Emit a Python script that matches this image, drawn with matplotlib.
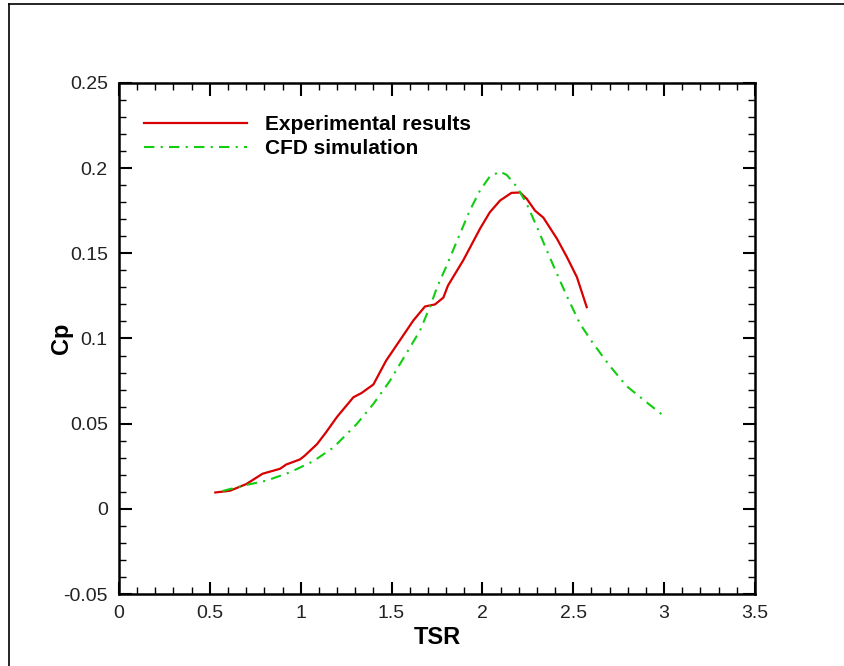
import numpy as np
import matplotlib
matplotlib.use("Agg")
import matplotlib.pyplot as plt
from matplotlib.ticker import AutoMinorLocator
from matplotlib.lines import Line2D

plt.rcParams['font.family'] = ['Liberation Sans', 'DejaVu Sans']

tsr_exp = [0.53, 0.61, 0.70, 0.79, 0.886, 0.92, 0.996, 1.02, 1.09, 1.14, 1.20,
           1.29, 1.335, 1.40, 1.47, 1.54, 1.62, 1.684, 1.739, 1.785, 1.81,
           1.895, 1.987, 2.04, 2.097, 2.16, 2.207, 2.244, 2.29, 2.335, 2.41,
           2.464, 2.52, 2.574]
cp_exp = [0.0096, 0.0106, 0.0145, 0.0206, 0.0235, 0.026, 0.029, 0.031, 0.038,
          0.045, 0.054, 0.0655, 0.068, 0.073, 0.087, 0.098, 0.1106, 0.1188,
          0.120, 0.124, 0.131, 0.146, 0.1645, 0.174, 0.181, 0.1855, 0.1857,
          0.182, 0.175, 0.171, 0.1586, 0.148, 0.136, 0.1184]

# CFD simulation
tsr_cfd = [0.57, 0.70, 0.81, 0.94, 1.07, 1.18, 1.31, 1.40, 1.49, 1.58, 1.657,
           1.72, 1.75, 1.80, 1.877, 1.93, 1.987, 2.04, 2.097, 2.134, 2.19,
           2.244, 2.30, 2.353, 2.41, 2.464, 2.537, 2.61, 2.70, 2.794, 2.904,
           2.996]
cp_cfd = [0.0105, 0.014, 0.0165, 0.0214, 0.028, 0.036, 0.050, 0.0616, 0.075,
          0.091, 0.1047, 0.121, 0.130, 0.142, 0.1616, 0.175, 0.187, 0.195,
          0.198, 0.196, 0.189, 0.179, 0.1655, 0.152, 0.138, 0.125, 0.1086,
          0.097, 0.084, 0.072, 0.0625, 0.0547]

xticks = [0, 0.5, 1, 1.5, 2, 2.5, 3, 3.5]
xticklabels = ['0', '0.5', '1', '1.5', '2', '2.5', '3', '3.5']
yticks = [-0.05, 0, 0.05, 0.1, 0.15, 0.2, 0.25]
yticklabels = ['-0.05', '0', '0.05', '0.1', '0.15', '0.2', '0.25']

fig = plt.figure(figsize=(8.45, 6.66), dpi=100)
ax = fig.add_axes([0.1408, 0.1081, 0.7527, 0.7673])

ax.plot(tsr_exp, cp_exp, '-', color='#d80000', lw=1.6, label='Experimental results')
ax.plot(tsr_cfd, cp_cfd, '-.', color='#11cc11', lw=1.5, dashes=[5, 3, 1, 3],
        label='CFD simulation')

ax.set_xlim(0, 3.5)
ax.set_ylim(-0.05, 0.25)
ax.set_xticks(xticks)
ax.set_xticklabels(xticklabels)
ax.set_yticks(yticks)
ax.set_yticklabels(yticklabels)
ax.xaxis.set_minor_locator(AutoMinorLocator(5))
ax.yaxis.set_minor_locator(AutoMinorLocator(5))

ax.tick_params(which='both', direction='in', top=True, right=True,
               labelsize=14, labelcolor='#222222')
ax.tick_params(which='major', length=9, width=1.5, pad=8)
ax.tick_params(which='minor', length=5, width=1)
for s in ax.spines.values():
    s.set_linewidth(1.8)

ax.set_xlabel('TSR', fontsize=17, fontweight='bold', labelpad=3)
ax.set_ylabel('Cp', fontsize=17, fontweight='bold', labelpad=-7)

leg = ax.legend(loc='upper left', bbox_to_anchor=(0.04, 0.937), frameon=False,
                prop={'weight': 'bold', 'size': 15}, handlelength=4.9,
                handletextpad=0.87, labelspacing=0.235, borderpad=0,
                borderaxespad=0)

# outer frame (top and left only visible)
fig.add_artist(Line2D([9/845, 1], [1 - 4/666, 1 - 4/666], transform=fig.transFigure,
                      color='black', lw=1.2))
fig.add_artist(Line2D([9/845, 9/845], [0, 1 - 4/666], transform=fig.transFigure,
                      color='black', lw=1.2))

plt.savefig('out.png', dpi=100)
